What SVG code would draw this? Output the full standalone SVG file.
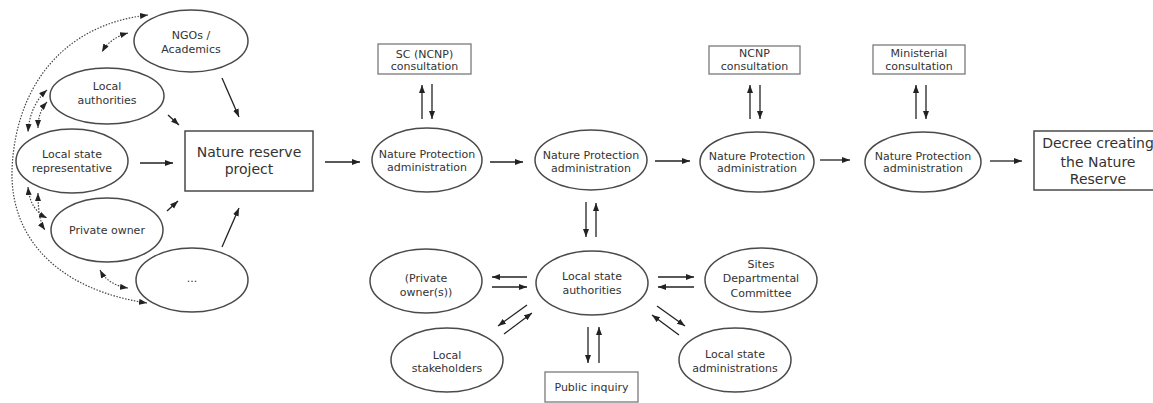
<svg xmlns="http://www.w3.org/2000/svg" width="1153" height="403" viewBox="0 0 1153 403">
<style>
.n ellipse{fill:#fff;stroke:#4a4a4a;stroke-width:1.5}
.box{fill:#fff;stroke:#4a4a4a;stroke-width:1.5}
.cbox{fill:#fff;stroke:#7a7a7a;stroke-width:1.3}
text{font-family:"DejaVu Sans",Verdana,sans-serif;fill:#333;text-anchor:middle;dominant-baseline:central}
.s{font-size:11px}
.b{font-size:14px}
.c line,.c path{stroke:#222;stroke-width:1.3;fill:none}
.c .sol{marker-end:url(#ah)}
.c .dot{stroke:#444;stroke-width:1.2;stroke-dasharray:1.5 1.5;marker-start:url(#ah);marker-end:url(#ah)}
</style>
<defs>
<marker id="ah" markerUnits="userSpaceOnUse" markerWidth="9" markerHeight="7" refX="8" refY="3" orient="auto-start-reverse">
<path d="M0,0 L8,3 L0,6 z" fill="#222"/>
</marker>
</defs>
<rect width="1153" height="403" fill="#fff"/>

<g id="ngos" class="n"><ellipse cx="191" cy="41" rx="57" ry="31"/><text class="s" x="191" y="35">NGOs /</text><text class="s" x="191" y="49">Academics</text></g>
<g id="local-authorities" class="n"><ellipse cx="107" cy="96" rx="57" ry="28"/><text class="s" x="107" y="86">Local</text><text class="s" x="107" y="100">authorities</text></g>
<g id="local-state-rep" class="n"><ellipse cx="72" cy="161" rx="56" ry="32"/><text class="s" x="72" y="154">Local state</text><text class="s" x="72" y="168">representative</text></g>
<g id="private-owner" class="n"><ellipse cx="107" cy="230" rx="56" ry="32"/><text class="s" x="107" y="230">Private owner</text></g>
<g id="etc" class="n"><ellipse cx="192" cy="280" rx="56" ry="32"/><text class="s" x="192" y="278">...</text></g>
<g id="project"><rect class="box" x="185" y="131" width="128" height="60"/><text class="b" x="249" y="152">Nature reserve</text><text class="b" x="249" y="169">project</text></g>

<g id="npa1" class="n"><ellipse cx="427" cy="160" rx="55" ry="32"/><text class="s" x="427" y="154">Nature Protection</text><text class="s" x="427" y="167">administration</text></g>
<g id="sc-ncnp"><rect class="cbox" x="378" y="44" width="93" height="30"/><text class="s" x="424.5" y="54">SC (NCNP)</text><text class="s" x="424.5" y="66">consultation</text></g>
<g id="npa2" class="n"><ellipse cx="591" cy="160" rx="56" ry="30"/><text class="s" x="591" y="155">Nature Protection</text><text class="s" x="591" y="168">administration</text></g>
<g id="npa3" class="n"><ellipse cx="757" cy="162" rx="57" ry="30"/><text class="s" x="757" y="156">Nature Protection</text><text class="s" x="757" y="168">administration</text></g>
<g id="ncnp"><rect class="cbox" x="709" y="46" width="91" height="28"/><text class="s" x="754.5" y="53">NCNP</text><text class="s" x="754.5" y="66">consultation</text></g>
<g id="npa4" class="n"><ellipse cx="923" cy="162" rx="58" ry="30"/><text class="s" x="923" y="156">Nature Protection</text><text class="s" x="923" y="168">administration</text></g>
<g id="ministerial"><rect class="cbox" x="873" y="45" width="92" height="29"/><text class="s" x="919" y="53">Ministerial</text><text class="s" x="919" y="66">consultation</text></g>
<g id="decree"><rect class="box" x="1034" y="131" width="128" height="59"/><text class="b" x="1098" y="143">Decree creating</text><text class="b" x="1098" y="162">the Nature</text><text class="b" x="1098" y="179">Reserve</text></g>

<g id="lsa" class="n"><ellipse cx="592" cy="283" rx="56" ry="32"/><text class="s" x="592" y="276">Local state</text><text class="s" x="592" y="290">authorities</text></g>
<g id="private-owners" class="n"><ellipse cx="426" cy="281" rx="56" ry="32"/><text class="s" x="426" y="278">(Private</text><text class="s" x="426" y="292">owner(s))</text></g>
<g id="sdc" class="n"><ellipse cx="761" cy="280" rx="56" ry="32"/><text class="s" x="761" y="264">Sites</text><text class="s" x="761" y="278">Departmental</text><text class="s" x="761" y="293">Committee</text></g>
<g id="local-stakeholders" class="n"><ellipse cx="447" cy="360" rx="56" ry="32"/><text class="s" x="447" y="355">Local</text><text class="s" x="447" y="368">stakeholders</text></g>
<g id="public-inquiry"><rect class="cbox" x="545" y="372" width="93" height="30"/><text class="s" x="591.5" y="387">Public inquiry</text></g>
<g id="lsadm" class="n"><ellipse cx="735" cy="360" rx="56" ry="32"/><text class="s" x="735" y="354">Local state</text><text class="s" x="735" y="368">administrations</text></g>

<g id="connectors" class="c">
<line class="sol" x1="222" y1="78" x2="239" y2="117"/>
<line class="sol" x1="168" y1="115" x2="179" y2="125"/>
<line class="sol" x1="140" y1="163" x2="173" y2="163"/>
<line class="sol" x1="167" y1="211" x2="178" y2="201"/>
<line class="sol" x1="222" y1="247" x2="239" y2="208"/>
<line class="sol" x1="325" y1="162" x2="360" y2="162"/>
<line class="sol" x1="490" y1="162" x2="523" y2="162"/>
<line class="sol" x1="655" y1="161" x2="690" y2="161"/>
<line class="sol" x1="820" y1="160" x2="850" y2="160"/>
<line class="sol" x1="990" y1="161" x2="1022" y2="161"/>
<line class="sol" x1="422" y1="119" x2="422" y2="85"/>
<line class="sol" x1="432" y1="84" x2="432" y2="119"/>
<line class="sol" x1="750" y1="119" x2="750" y2="85"/>
<line class="sol" x1="760" y1="85" x2="760" y2="119"/>
<line class="sol" x1="916" y1="119" x2="916" y2="85"/>
<line class="sol" x1="926" y1="85" x2="926" y2="119"/>
<line class="sol" x1="586" y1="202" x2="586" y2="237"/>
<line class="sol" x1="596" y1="237" x2="596" y2="203"/>
<line class="sol" x1="527" y1="277" x2="492" y2="277"/>
<line class="sol" x1="492" y1="287" x2="527" y2="287"/>
<line class="sol" x1="658" y1="277" x2="694" y2="277"/>
<line class="sol" x1="694" y1="287" x2="658" y2="287"/>
<line class="sol" x1="527" y1="305" x2="498" y2="326"/>
<line class="sol" x1="504" y1="334" x2="532" y2="313"/>
<line class="sol" x1="588" y1="327" x2="588" y2="363"/>
<line class="sol" x1="599" y1="363" x2="599" y2="327"/>
<line class="sol" x1="657" y1="306" x2="685" y2="326"/>
<line class="sol" x1="679" y1="335" x2="652" y2="315"/>
<path class="dot" d="M148,15 C60,25 15,90 12,170 C10,240 60,290 147,303"/>
<path class="dot" d="M128,33 Q110,38 102,52"/>
<path class="dot" d="M47,90 Q30,105 28,132"/>
<path class="dot" d="M47,102 Q38,112 38,128"/>
<path class="dot" d="M28,187 Q30,210 47,218"/>
<path class="dot" d="M38,193 Q38,220 45,230"/>
<path class="dot" d="M100,270 Q108,285 128,288"/>
</g>
</svg>
